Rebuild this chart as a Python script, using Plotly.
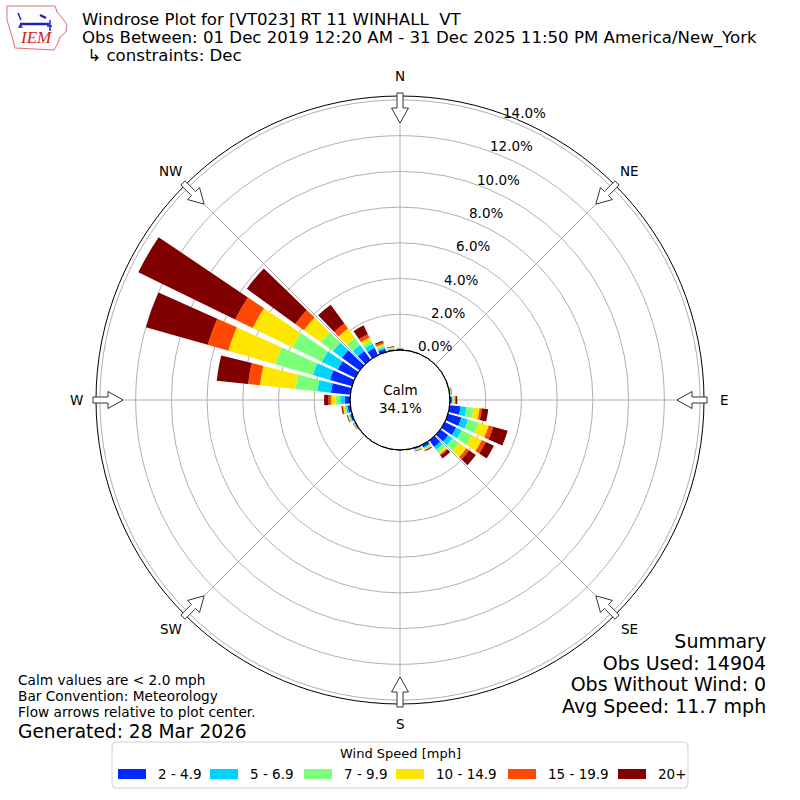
import math
import plotly.graph_objects as go

# ---------------- data ----------------
directions = [0, 10, 20, 30, 40, 50, 60, 70, 80, 90, 100, 110, 120, 130, 140, 150, 160, 170,
              180, 190, 200, 210, 220, 230, 240, 250, 260, 270, 280, 290, 300, 310, 320, 330, 340, 350]
bin_labels = ["2 - 4.9", "5 - 6.9", "7 - 9.9", "10 - 14.9", "15 - 19.9", "20+"]
bin_colors = ["#002aff", "#00d4ff", "#7bff7b", "#ffe600", "#ff4800", "#800000"]

spd_2_5 = [0.05, 0.02, 0.01, 0.01, 0.01, 0.01, 0.01, 0.02, 0.04, 0.10, 0.61, 0.78, 0.70, 0.55, 0.45, 0.15, 0.07, 0.02,
           0.01, 0.01, 0.01, 0.01, 0.01, 0.02, 0.05, 0.10, 0.15, 0.30, 1.09, 1.28, 1.08, 1.22, 0.60, 0.45, 0.18, 0.05]
spd_5_7 = [0.02, 0.01, 0.01, 0.00, 0.00, 0.00, 0.01, 0.01, 0.02, 0.05, 0.33, 0.39, 0.35, 0.30, 0.20, 0.07, 0.03, 0.01,
           0.01, 0.00, 0.00, 0.00, 0.01, 0.01, 0.02, 0.05, 0.10, 0.25, 0.76, 0.99, 0.98, 0.62, 0.40, 0.25, 0.10, 0.04]
spd_7_10 = [0.01, 0.01, 0.00, 0.00, 0.00, 0.00, 0.00, 0.00, 0.02, 0.05, 0.40, 0.61, 0.65, 0.45, 0.20, 0.06, 0.03, 0.01,
            0.00, 0.00, 0.00, 0.00, 0.00, 0.01, 0.02, 0.05, 0.08, 0.25, 1.24, 2.20, 1.84, 0.85, 0.50, 0.20, 0.10, 0.04]
spd_10_15 = [0.01, 0.00, 0.00, 0.00, 0.00, 0.00, 0.00, 0.00, 0.02, 0.07, 0.34, 0.59, 0.60, 0.50, 0.12, 0.05, 0.03, 0.01,
             0.01, 0.00, 0.00, 0.00, 0.00, 0.00, 0.02, 0.04, 0.07, 0.25, 1.99, 2.73, 2.48, 1.16, 0.65, 0.20, 0.10, 0.04]
spd_15_20 = [0.00, 0.00, 0.00, 0.00, 0.00, 0.00, 0.00, 0.00, 0.01, 0.05, 0.13, 0.26, 0.25, 0.20, 0.08, 0.03, 0.02, 0.00,
             0.00, 0.00, 0.00, 0.00, 0.00, 0.00, 0.01, 0.02, 0.04, 0.15, 0.67, 1.20, 1.09, 0.60, 0.35, 0.20, 0.10, 0.03]
spd_20p = [0.01, 0.00, 0.00, 0.00, 0.00, 0.00, 0.00, 0.00, 0.02, 0.09, 0.36, 0.84, 0.50, 0.45, 0.20, 0.04, 0.02, 0.01,
           0.00, 0.00, 0.00, 0.00, 0.00, 0.00, 0.02, 0.04, 0.06, 0.25, 1.77, 3.60, 6.03, 3.35, 1.30, 0.55, 0.07, 0.03]
series = [spd_2_5, spd_5_7, spd_7_10, spd_10_15, spd_15_20, spd_20p]

radial_ticks = [0, 2, 4, 6, 8, 10, 12, 14]
compass_angles = [0, 45, 90, 135, 180, 225, 270, 315]
compass_labels = ["N", "NE", "E", "SE", "S", "SW", "W", "NW"]
calm_pct = 34.1

title_lines = ["Windrose Plot for [VT023] RT 11 WINHALL  VT",
               "Obs Between: 01 Dec 2019 12:20 AM - 31 Dec 2025 11:50 PM America/New_York",
               "\u00a0↳ constraints: Dec"]
notes_left = ["Calm values are < 2.0 mph", "Bar Convention: Meteorology", "Flow arrows relative to plot center."]
generated = "Generated: 28 Mar 2026"
summary_lines = ["Summary", "Obs Used: 14904", "Obs Without Wind: 0", "Avg Speed: 11.7 mph"]

# ---------------- layout constants ----------------
W = H = 800
CX, CY = 400, 400
R_OUT = 304          # polar frame radius in px
R_HOLE = 50          # calm circle radius
RMAX = 14.22
FONT = "DejaVu Sans"


def P(x, y):
    return x / W, 1 - y / H


def rpx(v):
    return R_HOLE + v * (R_OUT - R_HOLE) / RMAX


def span(txt, size):
    return f'<span style="font-size:{size}px">{txt}</span>'


fig = go.Figure()
for vals, name, col in zip(series, bin_labels, bin_colors):
    fig.add_trace(go.Barpolar(r=vals, theta=directions, name=name, width=8,
                              marker=dict(color=col, line=dict(width=0)), showlegend=False))

fig.update_layout(
    width=W, height=H, autosize=False,
    margin=dict(l=0, r=0, t=0, b=0),
    paper_bgcolor="white", plot_bgcolor="white",
    font=dict(family=FONT, color="black"),
    polar=dict(
        domain=dict(x=[(CX - R_OUT) / W, (CX + R_OUT) / W], y=[(CY - R_OUT) / H, (CY + R_OUT) / H]),
        hole=R_HOLE / R_OUT,
        bgcolor="white",
        barmode="stack",
        angularaxis=dict(direction="clockwise", rotation=90, tickvals=compass_angles,
                         showticklabels=False, ticks="", showline=True, linecolor="black", linewidth=1,
                         showgrid=True, gridcolor="#b0b0b0", gridwidth=1),
        radialaxis=dict(range=[0, RMAX], tickvals=radial_ticks[1:], showticklabels=False, ticks="",
                        showline=False, showgrid=True, gridcolor="#b0b0b0", gridwidth=1),
    ),
)

shapes = []
annotations = []

# calm circle
x0, y0 = P(CX - R_HOLE, CY + R_HOLE)
x1, y1 = P(CX + R_HOLE, CY - R_HOLE)
shapes.append(dict(type="circle", xref="paper", yref="paper", x0=x0, y0=y0, x1=x1, y1=y1,
                   line=dict(color="black", width=1), layer="above"))

# flow arrows
for ang in compass_angles:
    t = math.radians(ang)
    ux, uy = math.sin(t), -math.cos(t)
    px_, py_ = math.cos(t), math.sin(t)
    pts = [(307, -3), (292, -3), (292, -8.5), (277, 0), (292, 8.5), (292, 3), (307, 3)]
    path = ""
    for i, (rr, ww) in enumerate(pts):
        x = CX + rr * ux + ww * px_
        y = CY + rr * uy + ww * py_
        xp, yp = P(x, y)
        path += ("M" if i == 0 else "L") + f"{xp:.5f},{yp:.5f} "
    path += "Z"
    shapes.append(dict(type="path", xref="paper", yref="paper", path=path,
                       fillcolor="white", line=dict(color="#333333", width=1), layer="above"))

# compass labels
for ang, lab in zip(compass_angles, compass_labels):
    t = math.radians(ang)
    x, y = P(CX + 324 * math.sin(t), CY - 324 * math.cos(t))
    annotations.append(dict(x=x, y=y, xref="paper", yref="paper", text=lab, showarrow=False,
                            xanchor="center", yanchor="middle", font=dict(size=13.5)))

# radial labels
ra = math.radians(21)
for v in radial_ticks:
    r = rpx(v)
    x, y = P(CX + r * math.sin(ra) + 17, CY - r * math.cos(ra) - 7)
    annotations.append(dict(x=x, y=y, xref="paper", yref="paper", text=f"{v:.1f}%", showarrow=False,
                            xanchor="center", yanchor="middle", font=dict(size=13.5)))

# calm text
x, y = P(CX, CY - 1)
annotations.append(dict(x=x, y=y, xref="paper", yref="paper", text=f"Calm<br>{calm_pct:.1f}%",
                        showarrow=False, xanchor="center", yanchor="middle", font=dict(size=13.5)))

# title (one block, 18px line pitch)
x, y = P(80, 37.5)
annotations.append(dict(x=x, y=y, xref="paper", yref="paper",
                        text="<br>".join(span(t, 16.6) for t in title_lines), showarrow=False,
                        xanchor="left", yanchor="middle", align="left", font=dict(size=13.85)))

# left notes (one block, 16px pitch)
x, y = P(16, 695.5)
annotations.append(dict(x=x, y=y, xref="paper", yref="paper",
                        text="<br>".join(span(t, 13.7) for t in notes_left), showarrow=False,
                        xanchor="left", yanchor="middle", align="left", font=dict(size=12.4)))
x, y = P(16, 731)
annotations.append(dict(x=x, y=y, xref="paper", yref="paper", text=generated, showarrow=False,
                        xanchor="left", yanchor="middle", font=dict(size=18.6)))

# summary (one block, ~21.7px pitch)
x, y = P(768, 673)
annotations.append(dict(x=x, y=y, xref="paper", yref="paper",
                        text="<br>".join(span(t, 19) for t in summary_lines), showarrow=False,
                        xanchor="right", yanchor="middle", align="right", font=dict(size=16.7)))

# legend (manual)
bx0, bx1, by0, by1, rad = 112, 688, 742, 788, 4
pts = [(bx0 + rad, by0), (bx1 - rad, by0), (bx1, by0 + rad), (bx1, by1 - rad), (bx1 - rad, by1),
       (bx0 + rad, by1), (bx0, by1 - rad), (bx0, by0 + rad)]
pp = [P(*q) for q in pts]
c = [P(bx1, by0), P(bx1, by1), P(bx0, by1), P(bx0, by0)]
path = (f"M{pp[0][0]},{pp[0][1]} L{pp[1][0]},{pp[1][1]} Q{c[0][0]},{c[0][1]} {pp[2][0]},{pp[2][1]} "
        f"L{pp[3][0]},{pp[3][1]} Q{c[1][0]},{c[1][1]} {pp[4][0]},{pp[4][1]} "
        f"L{pp[5][0]},{pp[5][1]} Q{c[2][0]},{c[2][1]} {pp[6][0]},{pp[6][1]} "
        f"L{pp[7][0]},{pp[7][1]} Q{c[3][0]},{c[3][1]} {pp[0][0]},{pp[0][1]} Z")
shapes.append(dict(type="path", xref="paper", yref="paper", path=path, fillcolor="white",
                   line=dict(color="#d0d0d0", width=1), layer="above"))
x, y = P(400, 753)
annotations.append(dict(x=x, y=y, xref="paper", yref="paper", text="Wind Speed [mph]", showarrow=False,
                        xanchor="center", yanchor="middle", font=dict(size=13)))
handle_x = [118, 210, 304, 396, 508, 618]
for hx, lab, col in zip(handle_x, bin_labels, bin_colors):
    xa, ya = P(hx, 779)
    xb, yb = P(hx + 28, 769)
    shapes.append(dict(type="rect", xref="paper", yref="paper", x0=xa, y0=ya, x1=xb, y1=yb,
                       fillcolor=col, line=dict(width=0), layer="above"))
    x, y = P(hx + 38, 774)
    annotations.append(dict(x=x, y=y, xref="paper", yref="paper", text=lab, showarrow=False,
                            xanchor="left", yanchor="middle", font=dict(size=13.5)))

# IEM logo (simplified)
iowa = [(7, 6), (55, 6), (57, 12), (63, 19), (67, 25), (66, 32), (60, 37), (58, 43), (54, 50),
        (15, 48), (13, 40), (10, 30), (7, 20)]
path = ""
for i, q in enumerate(iowa):
    xp, yp = P(*q)
    path += ("M" if i == 0 else "L") + f"{xp:.5f},{yp:.5f} "
path += "Z"
shapes.append(dict(type="path", xref="paper", yref="paper", path=path,
                   line=dict(color="#e07070", width=1), layer="above"))
for (ax0, ay0, ax1, ay1, wd) in [(20, 24, 49, 24, 2.5), (18, 13, 21, 20, 1.5), (40, 15, 46, 18, 2.5),
                                 (50, 20, 50, 31, 1.5), (47, 26, 52, 26, 1.5)]:
    xa, ya = P(ax0, ay0)
    xb, yb = P(ax1, ay1)
    shapes.append(dict(type="line", xref="paper", yref="paper", x0=xa, y0=ya, x1=xb, y1=yb,
                       line=dict(color="#2020c0", width=wd), layer="above"))
x, y = P(20, 24)
annotations.append(dict(x=x, y=y, xref="paper", yref="paper", text="▲", showarrow=False,
                        xanchor="center", yanchor="middle", font=dict(size=6, color="#2020c0")))
x, y = P(36, 38)
annotations.append(dict(x=x, y=y, xref="paper", yref="paper", text="<i>IEM</i>", showarrow=False,
                        xanchor="center", yanchor="middle",
                        font=dict(size=17, family="Liberation Serif", color="#d02020")))

fig.update_layout(shapes=shapes, annotations=annotations)
fig.write_html("out.html", config={"displayModeBar": False},
               post_script="document.body.style.margin='0';document.body.style.padding='0';")
